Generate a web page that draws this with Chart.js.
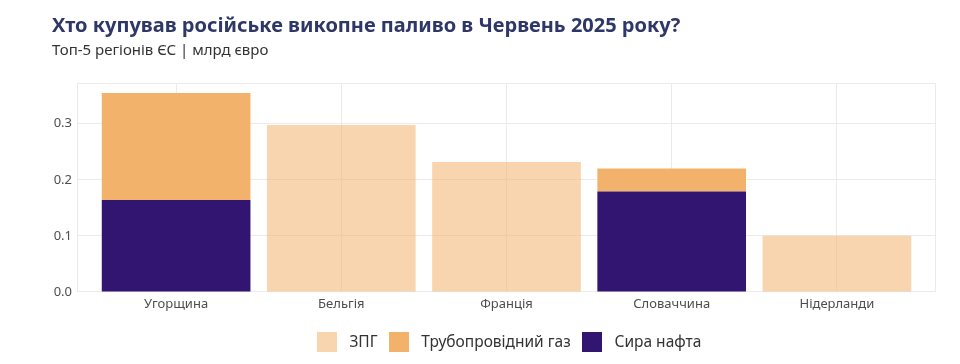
<!DOCTYPE html>
<html><head><meta charset="utf-8">
<script src="https://cdn.jsdelivr.net/npm/chart.js@4/dist/chart.umd.min.js"></script>
<style>html,body{margin:0;padding:0;background:#fff}#wrap{width:960px;height:364px;position:relative}</style>
</head><body><div id="wrap"><canvas id="c" width="960" height="364"></canvas></div>
<script>
const categories = ['Угорщина', 'Бельгія', 'Франція', 'Словаччина', 'Нідерланди'];
const lngValues = [0, 0.298, 0.232, 0, 0.100];
const pipelineGasValues = [0.191, 0, 0, 0.041, 0];
const crudeOilValues = [0.164, 0, 0, 0.179, 0];
const seriesNames = ['ЗПГ', 'Трубопровідний газ', 'Сира нафта'];
const titleText = 'Хто купував російське викопне паливо в Червень 2025 року?';
const subtitleText = 'Топ-5 регіонів ЄС | млрд євро';

const FONT = "'Noto Sans', sans-serif";
const toPoints = arr => arr.map((v, i) => ({ x: i, y: v }));
const totals = categories.map((_, i) => lngValues[i] + pipelineGasValues[i] + crudeOilValues[i]);
const yMax = Math.max(...totals) * 1.05;

function swatch(color) {
  const c = document.createElement('canvas');
  c.width = 20; c.height = 20;
  const g = c.getContext('2d');
  g.fillStyle = color;
  g.fillRect(0, 0, 20, 20);
  return c;
}

const panelBorder = {
  id: 'panelBorder',
  beforeDatasetsDraw(chart) {
    const a = chart.chartArea, ctx = chart.ctx;
    ctx.save();
    ctx.strokeStyle = '#EBEBEB';
    ctx.lineWidth = 1;
    ctx.strokeRect(Math.round(a.left) + 0.5, Math.round(a.top) + 0.5, Math.round(a.right - a.left) - 1, Math.round(a.bottom - a.top) - 1);
    ctx.restore();
  }
};

new Chart(document.getElementById('c'), {
  type: 'bar',
  data: {
    datasets: [
      { label: seriesNames[2], data: toPoints(crudeOilValues), backgroundColor: '#311570' },
      { label: seriesNames[1], data: toPoints(pipelineGasValues), backgroundColor: '#F2B26C' },
      { label: seriesNames[0], data: toPoints(lngValues), backgroundColor: 'rgba(242,178,108,0.55)' }
    ]
  },
  options: {
    responsive: false,
    animation: false,
    datasets: { bar: { barPercentage: 0.9, categoryPercentage: 1, borderWidth: 0 } },
    layout: { padding: { left: 52, right: 24, top: 0, bottom: 4 } },
    scales: {
      x: {
        type: 'linear', stacked: true, min: -0.6, max: 4.6, offset: false,
        grid: { color: '#EBEBEB', drawTicks: false, offset: false },
        border: { display: false },
        afterFit: s => { s.height += 11; },
        ticks: { stepSize: 1, includeBounds: false, autoSkip: false, maxRotation: 0, padding: 5,
          color: '#4D4D4D', font: { family: FONT, size: 13 },
          callback: v => categories[v] }
      },
      y: {
        stacked: true, min: 0, max: yMax,
        grid: { color: '#EBEBEB', drawTicks: false },
        border: { display: false },
        afterFit: s => { s.width = 25; },
        ticks: { stepSize: 0.1, includeBounds: false, padding: 5,
          color: '#4D4D4D', font: { family: FONT, size: 13 },
          callback: v => v.toFixed(1) }
      }
    },
    plugins: {
      title: { display: true, text: titleText, align: 'start', color: '#2E3767',
        font: { family: FONT, size: 20, weight: 'bold' }, padding: { top: 14, bottom: 2 } },
      subtitle: { display: true, text: subtitleText, align: 'start', color: '#333333',
        font: { family: FONT, size: 15 }, padding: { top: 2, bottom: 23 } },
      legend: { position: 'bottom', reverse: true, fullSize: false,
        labels: { usePointStyle: true, pointStyleWidth: 30, padding: 6, color: '#333333',
          font: { family: FONT, size: 15.5 },
          generateLabels: chart => Chart.defaults.plugins.legend.labels.generateLabels(chart)
            .map(l => Object.assign(l, { pointStyle: swatch(l.fillStyle), lineWidth: 0 })) } },
      tooltip: { enabled: false }
    }
  },
  plugins: [panelBorder]
});
</script></body></html>
